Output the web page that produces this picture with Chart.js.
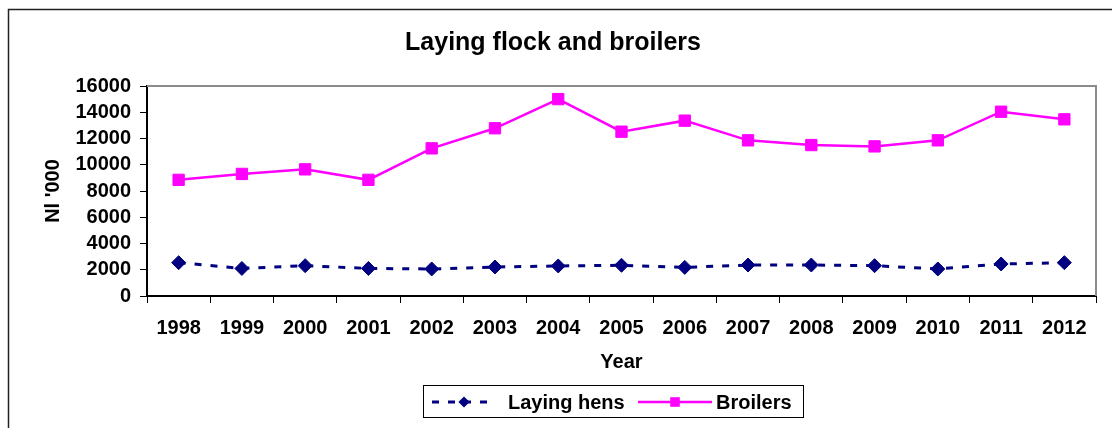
<!DOCTYPE html>
<html>
<head>
<meta charset="utf-8">
<script src="https://cdn.jsdelivr.net/npm/chart.js@4"></script>
<style>
  html, body { margin: 0; padding: 0; background: #fff; }
  #wrap { width: 1112px; height: 428px; }
</style>
</head>
<body>
<div id="wrap"><canvas id="myChart" width="1112" height="428"></canvas></div>
<script>
var years = ["1998", "1999", "2000", "2001", "2002", "2003", "2004", "2005", "2006", "2007", "2008", "2009", "2010", "2011", "2012"];
// Legehennen, in 1000
var layingHens = [2540, 2100, 2310, 2100, 2060, 2210, 2290, 2340, 2180, 2360, 2360, 2310, 2060, 2440, 2540];
// Broiler, in 1000
var broilers = [8850, 9300, 9650, 8850, 11250, 12780, 15000, 12520, 13360, 11860, 11500, 11400, 11860, 14040, 13460];
var yTicks = [0, 2000, 4000, 6000, 8000, 10000, 12000, 14000, 16000];

var titel = "Laying flock and broilers";
var xAchse_Name = "Year";
var yAchse_Name = "Nl '000";
var schrift = "'Liberation Sans', Arial, sans-serif";

// Rahmen aussen, Plotrahmen oben/rechts und Legende
var rahmen = {
  id: "rahmen",
  afterDraw: function (chart) {
    var ctx = chart.ctx;
    var a = chart.chartArea;
    ctx.save();
    ctx.strokeStyle = "#222";
    ctx.lineWidth = 1.5;
    ctx.beginPath();
    ctx.moveTo(8.5, 428);
    ctx.lineTo(8.5, 9.5);
    ctx.lineTo(1112, 9.5);
    ctx.stroke();

    ctx.strokeStyle = "#8c8c8c";
    ctx.lineWidth = 2;
    ctx.beginPath();
    ctx.moveTo(a.left, a.top);
    ctx.lineTo(a.right, a.top);
    ctx.lineTo(a.right, a.bottom);
    ctx.stroke();

    // Legende
    ctx.strokeStyle = "#000";
    ctx.lineWidth = 1;
    ctx.strokeRect(423.5, 385.5, 380, 32);
    var ds = chart.data.datasets;
    var eintraege = [
      { d: ds[0], x1: 432, x2: 496, tx: 508 },
      { d: ds[1], x1: 638, x2: 712, tx: 716 },
    ];
    var y = 402;
    eintraege.forEach(function (e) {
      ctx.save();
      ctx.strokeStyle = e.d.borderColor;
      ctx.lineWidth = e.d.borderWidth;
      ctx.setLineDash(e.d.borderDash || []);
      ctx.beginPath();
      ctx.moveTo(e.x1, y);
      ctx.lineTo(e.x2, y);
      ctx.stroke();
      ctx.restore();
      ctx.fillStyle = e.d.pointBackgroundColor;
      ctx.beginPath();
      var r = e.d.pointRadius * 0.8;
      var cx = (e.x1 + e.x2) / 2;
      if (e.d.pointStyle === "rect") {
        ctx.rect(cx - r * 0.75, y - r * 0.75, r * 1.5, r * 1.5);
      } else {
        ctx.moveTo(cx, y - r);
        ctx.lineTo(cx + r, y);
        ctx.lineTo(cx, y + r);
        ctx.lineTo(cx - r, y);
        ctx.closePath();
      }
      ctx.fill();
      ctx.fillStyle = "#000";
      ctx.font = "bold 20px " + schrift;
      ctx.textBaseline = "middle";
      ctx.textAlign = "left";
      ctx.fillText(e.d.label, e.tx, y + 1);
    });
    ctx.restore();
  },
};

new Chart("myChart", {
  type: "line",
  data: {
    labels: years,
    datasets: [
      {
        label: "Laying hens",
        data: layingHens,
        borderColor: "#000080",
        backgroundColor: "#000080",
        borderWidth: 3,
        borderDash: [7, 9],
        pointStyle: "rectRot",
        pointRadius: 7,
        pointBackgroundColor: "#000080",
        pointBorderColor: "#000080",
        pointBorderWidth: 1,
        tension: 0,
      },
      {
        label: "Broilers",
        data: broilers,
        borderColor: "#ff00ff",
        backgroundColor: "#ff00ff",
        borderWidth: 2.5,
        pointStyle: "rect",
        pointRadius: 8,
        pointBackgroundColor: "#ff00ff",
        pointBorderColor: "#ff00ff",
        pointBorderWidth: 1,
        tension: 0,
      },
    ],
  },
  options: {
    responsive: false,
    animation: false,
    layout: { padding: { left: 10, right: 16, top: 10, bottom: 54 } },
    plugins: {
      legend: { display: false },
      tooltip: { enabled: false },
      title: {
        display: true,
        text: titel,
        color: "#000",
        font: { family: schrift, size: 25, weight: "bold" },
        padding: { top: 18, bottom: 28 },
      },
    },
    scales: {
      x: {
        offset: true,
        grid: {
          offset: true,
          drawOnChartArea: false,
          drawTicks: true,
          tickLength: 7,
          color: "#000",
        },
        border: { display: true, color: "#000", width: 2 },
        ticks: {
          color: "#000",
          padding: 13,
          maxRotation: 0,
          autoSkip: false,
          font: { family: schrift, size: 20, weight: "bold" },
        },
        title: {
          display: true,
          text: xAchse_Name,
          color: "#000",
          font: { family: schrift, size: 20, weight: "bold" },
          padding: { top: 0, bottom: 0 },
        },
        afterFit: function (s) {
          s.height = 78;
        },
      },
      y: {
        min: 0,
        max: 16000,
        afterBuildTicks: function (s) {
          s.ticks = yTicks.map(function (v) { return { value: v }; });
        },
        grid: {
          drawOnChartArea: false,
          drawTicks: true,
          tickLength: 7,
          color: "#000",
        },
        border: { display: true, color: "#000", width: 2 },
        ticks: {
          color: "#000",
          padding: 9,
          autoSkip: false,
          callback: function (v) { return String(v); },
          font: { family: schrift, size: 20, weight: "bold" },
        },
        title: {
          display: true,
          text: yAchse_Name,
          color: "#000",
          font: { family: schrift, size: 20, weight: "bold" },
          padding: { top: 31, bottom: 0 },
        },
        afterFit: function (s) {
          s.width = 137;
        },
      },
    },
  },
  plugins: [rahmen],
});
</script>
</body>
</html>
